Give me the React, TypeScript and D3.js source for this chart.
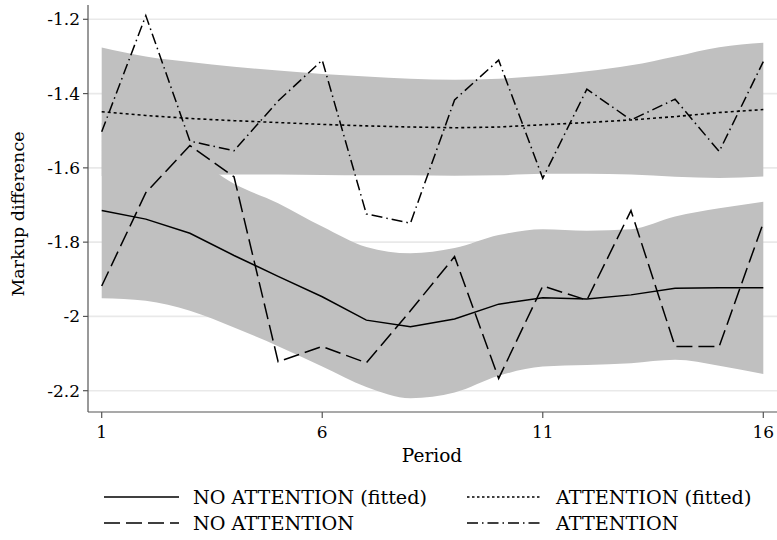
import React from "react";
import * as d3 from "d3";

const periods = [1, 2, 3, 4, 5, 6, 7, 8, 9, 10, 11, 12, 13, 14, 15, 16];

const attention = [-1.503, -1.19, -1.528, -1.554, -1.42, -1.31, -1.724, -1.749, -1.417, -1.31, -1.628, -1.388, -1.471, -1.415, -1.556, -1.314];
const attentionFit = [-1.449, -1.459, -1.467, -1.473, -1.478, -1.483, -1.487, -1.49, -1.492, -1.49, -1.484, -1.478, -1.471, -1.462, -1.451, -1.443];
const attentionUpper = [-1.276, -1.3, -1.315, -1.328, -1.338, -1.347, -1.354, -1.36, -1.363, -1.36, -1.352, -1.34, -1.324, -1.3, -1.275, -1.263];
const attentionLower = [-1.622, -1.62, -1.619, -1.618, -1.618, -1.619, -1.62, -1.62, -1.621, -1.62, -1.616, -1.616, -1.618, -1.624, -1.627, -1.623];

const noAttention = [-1.918, -1.667, -1.54, -1.624, -2.122, -2.081, -2.125, -1.985, -1.839, -2.167, -1.918, -1.956, -1.715, -2.081, -2.081, -1.748];
const noAttentionFit = [-1.715, -1.738, -1.776, -1.836, -1.892, -1.947, -2.01, -2.028, -2.007, -1.967, -1.95, -1.953, -1.942, -1.924, -1.923, -1.923];
const noAttentionUpper = [-1.479, -1.518, -1.567, -1.643, -1.695, -1.758, -1.813, -1.83, -1.816, -1.781, -1.765, -1.769, -1.765, -1.731, -1.709, -1.691];
const noAttentionLower = [-1.951, -1.958, -1.985, -2.03, -2.08, -2.135, -2.19, -2.22, -2.205, -2.16, -2.135, -2.131, -2.126, -2.117, -2.133, -2.155];

const yTicks = [-1.2, -1.4, -1.6, -1.8, -2, -2.2];
const xTicks = [1, 6, 11, 16];

const legendItems = [
  { label: "NO ATTENTION (fitted)", dash: "none", col: 0, row: 0 },
  { label: "ATTENTION (fitted)", dash: "2.5,2.5", col: 1, row: 0 },
  { label: "NO ATTENTION", dash: "16,6", col: 0, row: 1 },
  { label: "ATTENTION", dash: "11,4,1.5,4", col: 1, row: 1 },
];

const FONT = "'DejaVu Serif', serif";

export default function App() {
  const W = 777;
  const H = 540;
  const plotLeft = 88;
  const plotRight = 777;
  const plotTop = 5;
  const plotBottom = 412;

  const x = d3.scaleLinear().domain([1, 16]).range([101.7, 763.3]);
  const y = d3.scaleLinear().domain([-2.2, -1.2]).range([390.7, 19.3]);

  const line = (vals: number[]) =>
    d3
      .line<number>()
      .x((_, i) => x(periods[i]))
      .y((d) => y(d))
      .curve(d3.curveLinear)(vals) || "";

  const area = (lo: number[], hi: number[]) =>
    d3
      .area<number>()
      .x((_, i) => x(periods[i]))
      .y0((_, i) => y(lo[i]))
      .y1((_, i) => y(hi[i]))
      .curve(d3.curveMonotoneX)(periods) || "";

  const fmt = (v: number) => (Number.isInteger(v) ? String(v) : v.toFixed(1));

  const legendCols = [104, 467];
  const legendRows = [497, 523];
  const sampleW = 75;

  return (
    <svg width={W} height={H} style={{ display: "block", position: "absolute", left: 0, top: 0, background: "#fff" }}>
      <rect x={0} y={0} width={W} height={H} fill="#fff" />
      {yTicks.map((t) => (
        <line key={"g" + t} x1={plotLeft} x2={plotRight} y1={y(t)} y2={y(t)} stroke="#e9e9e9" strokeWidth={1.6} />
      ))}
      <path d={area(attentionLower, attentionUpper)} fill="#c0c0c0" />
      <path d={area(noAttentionLower, noAttentionUpper)} fill="#c0c0c0" />

      <path d={line(noAttentionFit)} fill="none" stroke="#000" strokeWidth={1.5} />
      <path d={line(attentionFit)} fill="none" stroke="#000" strokeWidth={1.6} strokeDasharray="3,3" />
      <path d={line(noAttention)} fill="none" stroke="#000" strokeWidth={1.5} strokeDasharray="16,6" />
      <path d={line(attention)} fill="none" stroke="#000" strokeWidth={1.5} strokeDasharray="11,4,1.5,4" />

      <line x1={plotLeft} x2={plotLeft} y1={plotTop} y2={plotBottom} stroke="#555" strokeWidth={1.2} />
      <line x1={plotLeft} x2={plotRight} y1={plotBottom} y2={plotBottom} stroke="#555" strokeWidth={1.2} />

      {yTicks.map((t) => (
        <g key={"y" + t}>
          <line x1={plotLeft - 5} x2={plotLeft} y1={y(t)} y2={y(t)} stroke="#555" strokeWidth={1.2} />
          <text x={plotLeft - 8} y={y(t)} textAnchor="end" dominantBaseline="central" fontFamily={FONT} fontSize={17} fill="#000">
            {fmt(t)}
          </text>
        </g>
      ))}
      {xTicks.map((t) => (
        <g key={"x" + t}>
          <line x1={x(t)} x2={x(t)} y1={plotBottom} y2={plotBottom + 6} stroke="#555" strokeWidth={1.2} />
          <text x={x(t)} y={432} textAnchor="middle" dominantBaseline="central" fontFamily={FONT} fontSize={17} fill="#000">
            {t}
          </text>
        </g>
      ))}

      <text x={432} y={455} textAnchor="middle" dominantBaseline="central" fontFamily={FONT} fontSize={18.5} fill="#000">
        Period
      </text>
      <text
        transform={`translate(18,214) rotate(-90)`}
        textAnchor="middle"
        dominantBaseline="central"
        fontFamily={FONT}
        fontSize={17.5}
        fill="#000"
      >
        Markup difference
      </text>

      {legendItems.map((it) => {
        const lx = legendCols[it.col];
        const ly = legendRows[it.row];
        return (
          <g key={it.label}>
            <line
              x1={lx}
              x2={lx + sampleW}
              y1={ly}
              y2={ly}
              stroke="#000"
              strokeWidth={1.6}
              strokeDasharray={it.dash === "none" ? undefined : it.dash}
            />
            <text x={lx + 89} y={ly} dominantBaseline="central" fontFamily={FONT} fontSize={19.2} fill="#000">
              {it.label}
            </text>
          </g>
        );
      })}
    </svg>
  );
}
